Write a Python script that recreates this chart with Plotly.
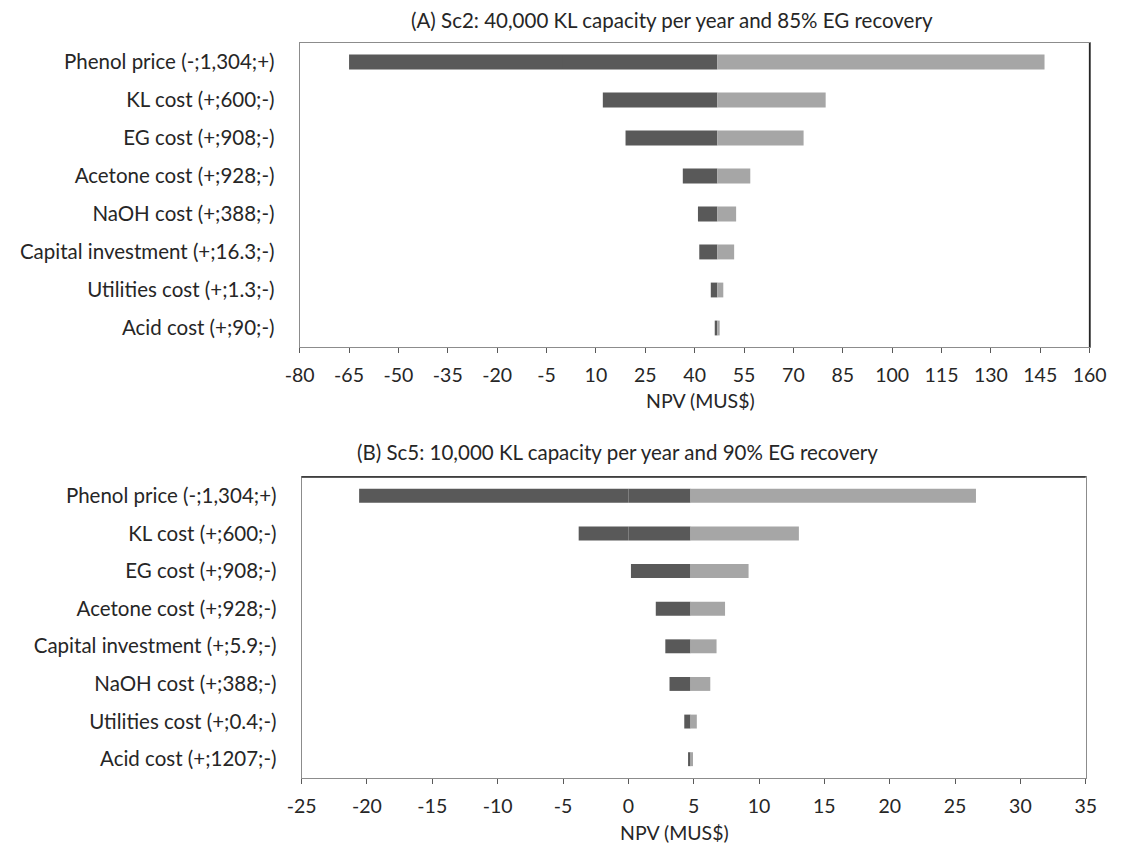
import plotly.graph_objects as go

# ---- Panel A: Sc2, 40,000 KL capacity per year, 85% EG recovery ----
cats_a = ["Phenol price (-;1,304;+)", "KL cost (+;600;-)", "EG cost (+;908;-)",
          "Acetone cost (+;928;-)", "NaOH cost (+;388;-)",
          "Capital investment (+;16.3;-)", "Utilities cost (+;1.3;-)",
          "Acid cost (+;90;-)"]
base_a = 46.9
low_a = [-65.0, 12.1, 19.0, 36.4, 41.0, 41.4, 44.9, 46.1]
high_a = [146.3, 79.8, 73.1, 56.9, 52.6, 52.0, 48.7, 47.6]
ticks_a = [-80, -65, -50, -35, -20, -5, 10, 25, 40, 55, 70, 85, 100, 115, 130, 145, 160]

# ---- Panel B: Sc5, 10,000 KL capacity per year, 90% EG recovery ----
cats_b = ["Phenol price (-;1,304;+)", "KL cost (+;600;-)", "EG cost (+;908;-)",
          "Acetone cost (+;928;-)", "Capital investment (+;5.9;-)",
          "NaOH cost (+;388;-)", "Utilities cost (+;0.4;-)",
          "Acid cost (+;1207;-)"]
base_b = 4.76
low_b = [-20.6, -3.8, 0.2, 2.1, 2.83, 3.15, 4.28, 4.57]
high_b = [26.6, 13.05, 9.2, 7.4, 6.75, 6.27, 5.24, 4.95]
ticks_b = [-25, -20, -15, -10, -5, 0, 5, 10, 15, 20, 25, 30, 35]

title_a = "(A) Sc2: 40,000 KL capacity per year and 85% EG recovery"
title_b = "(B) Sc5: 10,000 KL capacity per year and 90% EG recovery"

DARK = "#595959"
LIGHT = "#a6a6a6"
FONT = "Lato"
TXT = "#262626"
FS_LABEL = 20.5
FS_TICK = 19.5
FS_TITLE = 20.5

fig = go.Figure()


def add_tornado(cats, base, low, high, xa, ya, width):
    # low side: bars stacked from zero, so a segment crossing zero is split there
    neg_base, neg_len, pos_base, pos_len = [], [], [], []
    for lo in low:
        if lo < 0:
            neg_base.append(lo)
            neg_len.append(min(0.0, base) - lo)
            pos_base.append(0.0)
            pos_len.append(base)
        else:
            neg_base.append(0.0)
            neg_len.append(0.0)
            pos_base.append(lo)
            pos_len.append(base - lo)
    common = dict(orientation="h", xaxis=xa, yaxis=ya, width=width,
                  showlegend=False, hoverinfo="skip")
    fig.add_trace(go.Bar(y=cats, x=neg_len, base=neg_base,
                         marker=dict(color=DARK, line=dict(width=0)), **common))
    fig.add_trace(go.Bar(y=cats, x=pos_len, base=pos_base,
                         marker=dict(color=DARK, line=dict(width=0)), **common))
    fig.add_trace(go.Bar(y=cats, x=[h - base for h in high], base=[base] * len(high),
                         marker=dict(color=LIGHT, line=dict(width=0)), **common))


add_tornado(cats_a, base_a, low_a, high_a, "x", "y", 0.39)
add_tornado(cats_b, base_b, low_b, high_b, "x2", "y2", 0.37)

xcommon = dict(showgrid=False, zeroline=False, showline=True, linecolor="#8c8c8c",
               linewidth=1, mirror=True, ticks="outside", ticklen=5, tickwidth=1,
               tickcolor="#595959", ticklabelstandoff=6,
               tickfont=dict(family=FONT, size=FS_TICK, color=TXT))
ycommon = dict(showgrid=False, zeroline=False, showline=True, linecolor="#8c8c8c",
               linewidth=1, mirror=True, ticks="", autorange="reversed",
               tickfont=dict(family=FONT, size=FS_LABEL, color=TXT), ticklabelstandoff=20)

W, H = 1128, 845
ax_a = (293 / W, 1106 / W)
ay_a = (1 - 347 / H, 1 - 43 / H)
ax_b = (295 / W, 1102 / W)
ay_b = (1 - 778 / H, 1 - 477 / H)

fig.update_layout(
    width=W, height=H,
    margin=dict(l=0, r=0, t=0, b=0),
    paper_bgcolor="white", plot_bgcolor="white",
    barmode="overlay",
    xaxis=dict(domain=ax_a, anchor="y", range=[-80, 160], tickvals=ticks_a,
               ticktext=[str(t) for t in ticks_a], **xcommon),
    yaxis=dict(domain=ay_a, anchor="x", **ycommon),
    xaxis2=dict(domain=ax_b, anchor="y2", range=[-25, 35], tickvals=ticks_b,
                ticktext=[str(t) for t in ticks_b], **xcommon),
    yaxis2=dict(domain=ay_b, anchor="x2", **ycommon),
)

annots = [
    dict(text=title_a, x=676 / W, y=1 - 20 / H, size=FS_TITLE),
    dict(text=title_b, x=620 / W, y=1 - 452 / H, size=FS_TITLE),
    dict(text="NPV (MUS$)", x=706 / W, y=1 - 400 / H, size=FS_TICK),
    dict(text="NPV (MUS$)", x=679 / W, y=1 - 832 / H, size=FS_TICK),
]
for a in annots:
    size = a.pop("size")
    fig.add_annotation(xref="paper", yref="paper", showarrow=False,
                       xanchor="center", yanchor="middle",
                       font=dict(family=FONT, size=size, color=TXT), **a)

# darker top / right frame edges
fig.add_shape(type="line", xref="paper", yref="paper", x0=ax_a[1], x1=ax_a[1],
              y0=ay_a[0], y1=ay_a[1], line=dict(color="#262626", width=1.5))
fig.add_shape(type="line", xref="paper", yref="paper", x0=ax_b[0], x1=ax_b[1],
              y0=ay_b[1], y1=ay_b[1], line=dict(color="#262626", width=1.5))

fig.write_html("out.html")
